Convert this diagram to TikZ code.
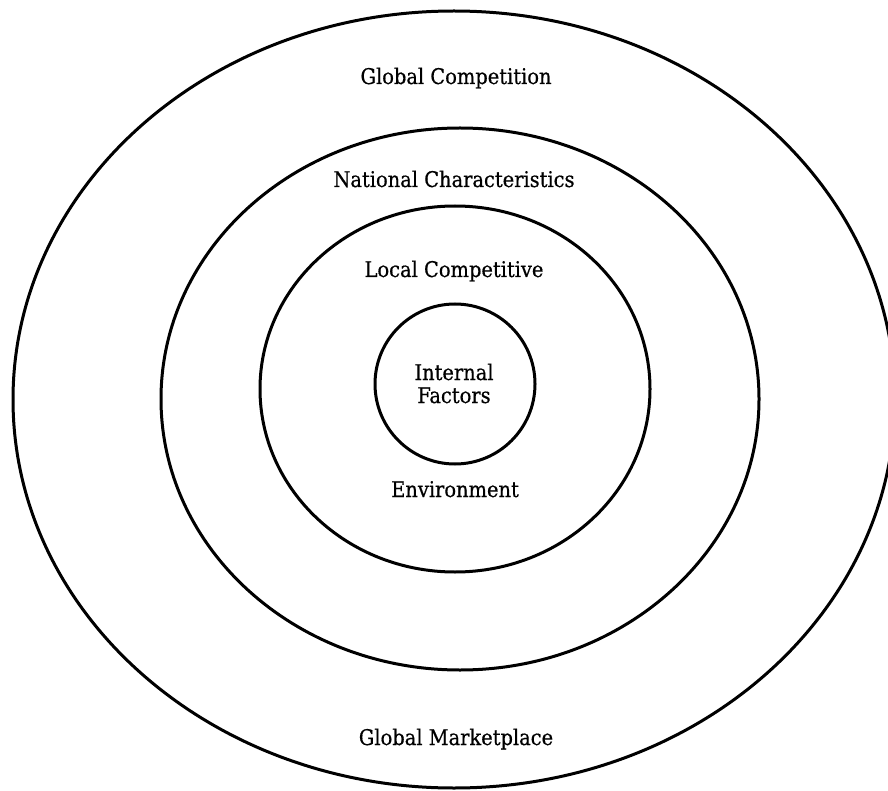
\documentclass[tikz,border=0pt]{standalone}
\usepackage{fontspec}
\newfontfamily\slab[FakeBold=0.6]{DejaVu Serif Condensed}
\begin{document}
\begin{tikzpicture}[x=1pt,y=-1pt,
  ring/.style={draw=black, line width=3pt},
  lbl/.style={font=\slab\fontsize{21.6}{24}\selectfont, anchor=base, inner sep=0pt}]
\useasboundingbox (0,0) rectangle (888,791);
\begin{scope}
  \clip (0,0) rectangle (888,791);
  % outer ring: global level
  \draw[ring] (454,399.5) ellipse [x radius=441pt, y radius=388.5pt];
  % national level
  \draw[ring] (460,399) ellipse [x radius=299pt, y radius=271pt];
  % local level
  \draw[ring] (455,389) ellipse [x radius=195pt, y radius=183pt];
  % firm
  \draw[ring] (455,384) circle [radius=80pt];
\end{scope}
\node[lbl] (gc) at (456,84) {Global Competition};
\node[lbl] (nc) at (454,187) {National Characteristics};
\node[lbl] (lc) at (454,277) {Local Competitive};
\node[lbl] (in) at (454,380) {Internal};
\node[lbl] (fa) at (454,403) {Factors};
\node[lbl] (en) at (455,497) {Environment};
\node[lbl] (gm) at (456,745) {Global Marketplace};
\end{tikzpicture}
\end{document}
